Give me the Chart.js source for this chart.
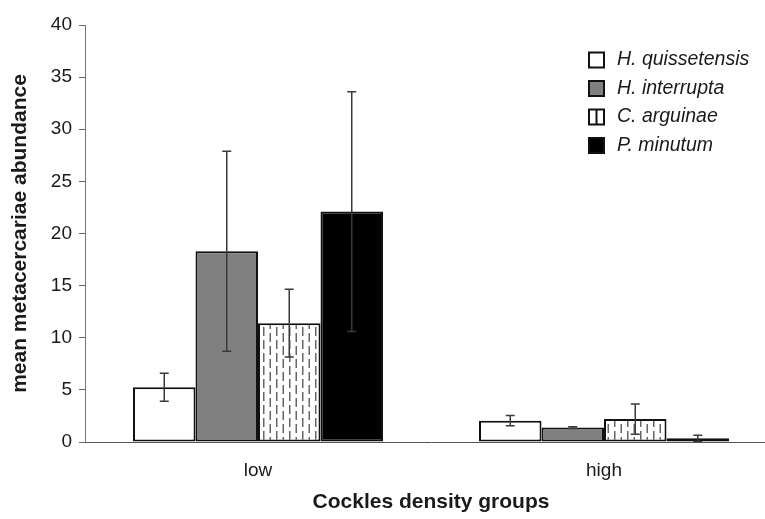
<!DOCTYPE html>
<html lang="en">
<head>
  <meta charset="UTF-8">
  <title>Metacercariae abundance by cockle density</title>
  <script src="https://cdn.jsdelivr.net/npm/chart.js"></script>
  <style>
    html, body { margin: 0; padding: 0; background: #fff; overflow: hidden; }
  </style>
</head>
<body>
  <canvas id="chart" width="777" height="519"></canvas>

  <script>
    // values
    const groups = ['low', 'high'];
    const species = ['H. quissetensis', 'H. interrupta', 'C. arguinae', 'P. minutum'];
    const quissetensis = [5.25, 2.05];
    const quissetensisErr = [1.35, 0.5];
    const interrupta = [18.3, 1.38];
    const interruptaErr = [9.6, 0.08];
    const arguinae = [11.4, 2.2];
    const arguinaeErr = [3.25, 1.45];
    const minutum = [22.1, 0.35];
    const minutumErr = [11.5, 0.3];
    const yTicks = [0, 5, 10, 15, 20, 25, 30, 35, 40];

    const FONT = '"Liberation Sans", Arial, sans-serif';

    // vertical dashed hatching for C. arguinae
    function dashPattern() {
      const c = document.createElement('canvas');
      c.width = 13; c.height = 26;
      const g = c.getContext('2d');
      g.fillStyle = '#fff';
      g.fillRect(0, 0, 13, 26);
      g.fillStyle = '#666';
      g.fillRect(3, 2, 1.5, 9);
      g.fillRect(3, 15, 1.5, 9);
      g.fillRect(9.5, 8, 1.5, 9);
      g.fillRect(9.5, 21, 1.5, 5);
      g.fillRect(9.5, 0, 1.5, 4);
      return g.createPattern(c, 'repeat');
    }

    const errorBars = {
      id: 'errorBars',
      afterDatasetsDraw(chart) {
        const ctx = chart.ctx, y = chart.scales.y;
        ctx.save();
        ctx.strokeStyle = '#3a3a3a';
        ctx.lineWidth = 1.5;
        chart.data.datasets.forEach((ds, i) => {
          chart.getDatasetMeta(i).data.forEach((bar, j) => {
            const v = ds.data[j], e = ds.errors[j];
            const top = y.getPixelForValue(v + e);
            const bot = y.getPixelForValue(Math.max(0, v - e));
            ctx.beginPath();
            ctx.moveTo(bar.x, top); ctx.lineTo(bar.x, bot);
            ctx.moveTo(bar.x - 4.5, top); ctx.lineTo(bar.x + 4.5, top);
            ctx.moveTo(bar.x - 4.5, bot); ctx.lineTo(bar.x + 4.5, bot);
            ctx.stroke();
          });
        });
        ctx.restore();
      }
    };

    const sideLegend = {
      id: 'sideLegend',
      afterDraw(chart) {
        const ctx = chart.ctx;
        const x0 = 589, y0 = 60, step = 28.5, box = 15;
        ctx.save();
        ctx.font = 'italic 19.5px ' + FONT;
        ctx.textBaseline = 'middle';
        chart.data.datasets.forEach((ds, i) => {
          const cy = y0 + i * step;
          ctx.fillStyle = ds.legendFill;
          ctx.fillRect(x0, cy - box / 2, box, box);
          ctx.strokeStyle = '#111';
          ctx.lineWidth = 2;
          ctx.strokeRect(x0, cy - box / 2, box, box);
          if (ds.legendMid) {
            ctx.beginPath();
            ctx.moveTo(x0 + box / 2, cy - box / 2);
            ctx.lineTo(x0 + box / 2, cy + box / 2);
            ctx.stroke();
          }
          ctx.fillStyle = '#1a1a1a';
          ctx.fillText(ds.label, x0 + 28, cy);
        });
        ctx.restore();
      }
    };

    const ctx = document.getElementById('chart').getContext('2d');
    new Chart(ctx, {
      type: 'bar',
      data: {
        labels: groups,
        datasets: [
          { label: species[0], data: quissetensis, errors: quissetensisErr,
            backgroundColor: '#fff', legendFill: '#fff' },
          { label: species[1], data: interrupta, errors: interruptaErr,
            backgroundColor: '#808080', legendFill: '#808080' },
          { label: species[2], data: arguinae, errors: arguinaeErr,
            backgroundColor: dashPattern(), legendFill: '#fff', legendMid: true },
          { label: species[3], data: minutum, errors: minutumErr,
            backgroundColor: '#000', legendFill: '#000' }
        ].map(d => Object.assign(d, {
          borderColor: '#111', borderWidth: 2, borderSkipped: false,
          categoryPercentage: 0.7225, barPercentage: 1.0
        }))
      },
      options: {
        responsive: false,
        animation: false,
        layout: { padding: { top: 25, left: 0, right: 0, bottom: 0 } },
        plugins: { legend: { display: false }, tooltip: { enabled: false } },
        scales: {
          x: {
            afterFit: s => { s.height = 77; },
            grid: { display: false, drawTicks: false },
            border: { display: true, color: '#555', width: 1 },
            ticks: { color: '#1a1a1a', padding: 17, font: { family: FONT, size: 19 } },
            title: { display: true, text: 'Cockles density groups', color: '#1a1a1a',
                     padding: { top: 0, bottom: 4 },
                     font: { family: FONT, size: 21, weight: 'bold' } }
          },
          y: {
            min: 0, max: 40,
            afterFit: s => { s.width = 85; },
            afterBuildTicks: s => { s.ticks = yTicks.map(v => ({ value: v })); },
            grid: { drawOnChartArea: false, drawTicks: true, tickLength: 6, color: '#666' },
            border: { display: true, color: '#777', width: 1 },
            ticks: { color: '#1a1a1a', padding: 7, font: { family: FONT, size: 19 } },
            title: { display: true, text: 'mean metacercariae abundance', color: '#1a1a1a',
                     padding: { top: 8, bottom: 0 },
                     font: { family: FONT, size: 21, weight: 'bold' } }
          }
        }
      },
      plugins: [errorBars, sideLegend]
    });
  </script>
</body>
</html>
